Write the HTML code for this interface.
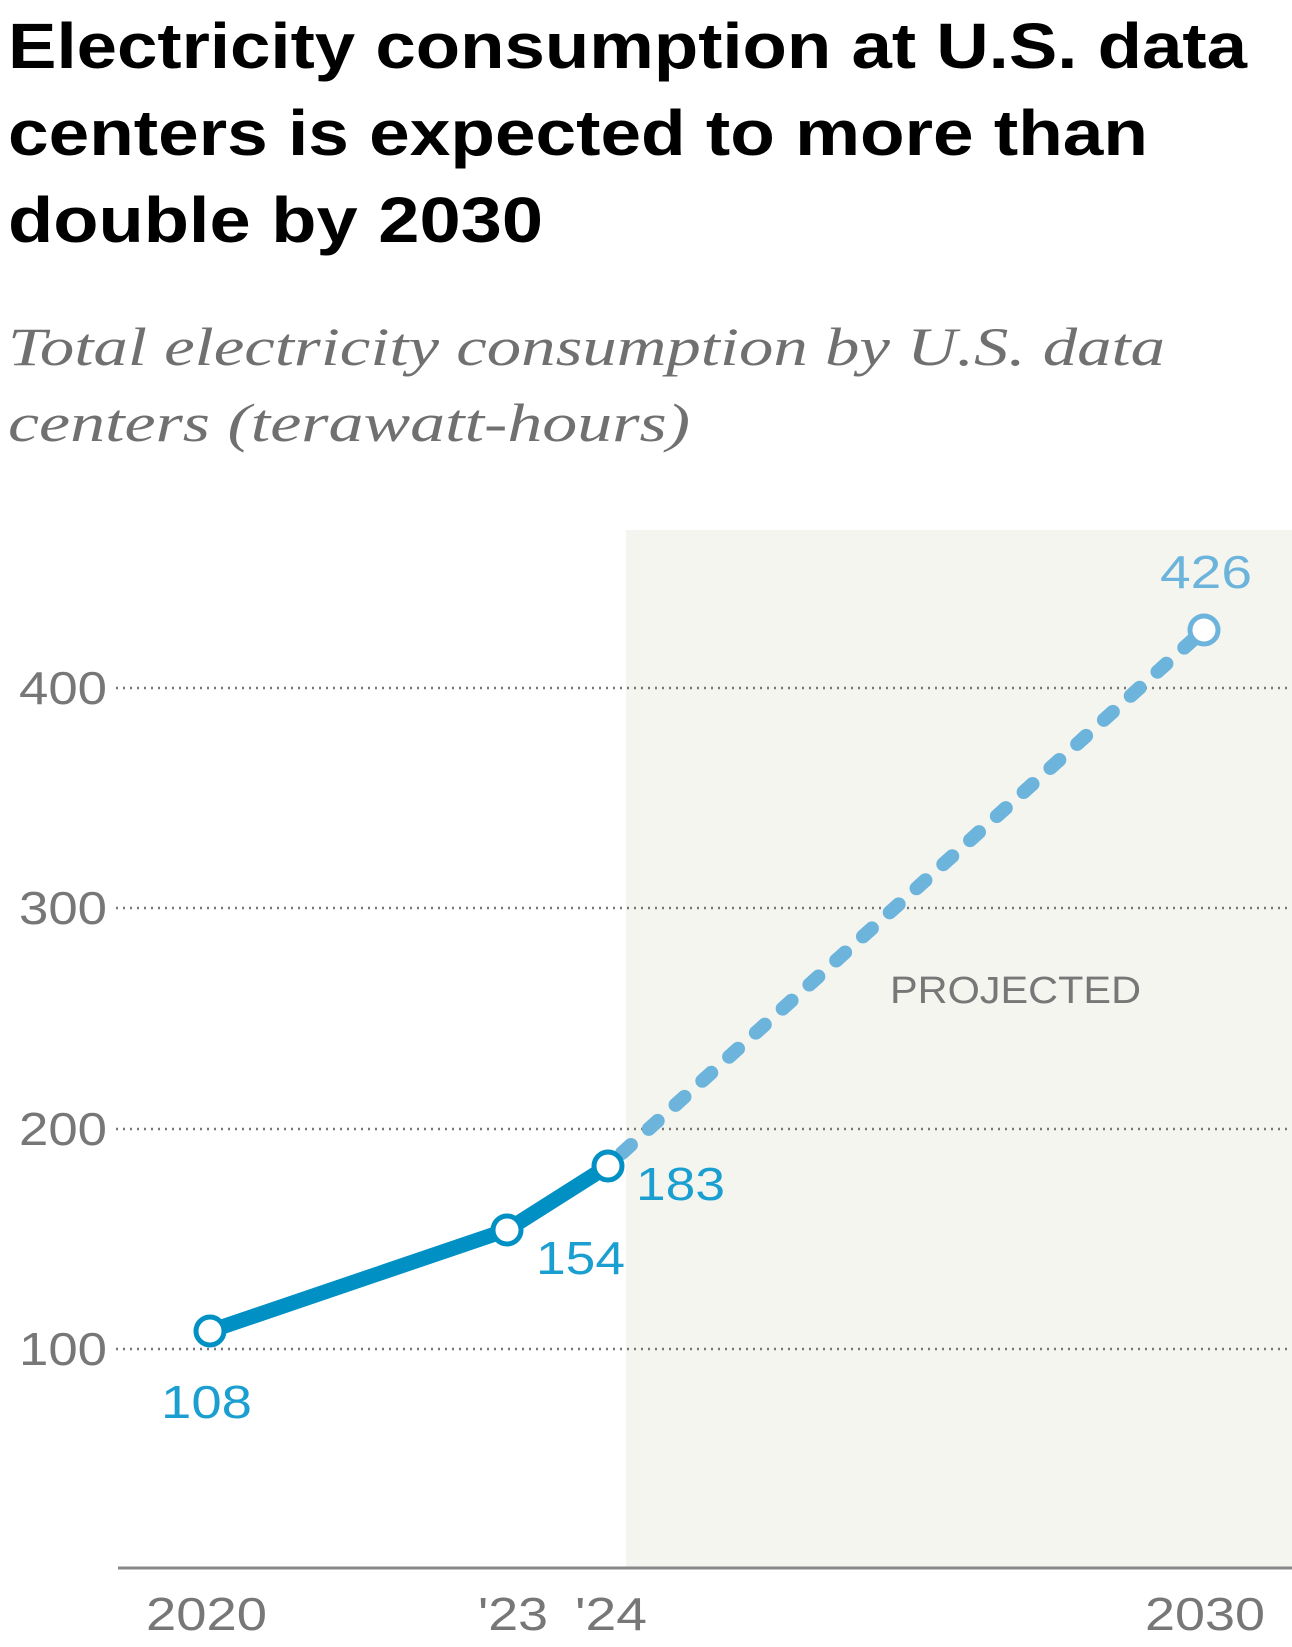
<!DOCTYPE html>
<html><head><meta charset="utf-8"><style>html,body{margin:0;padding:0;background:#fff}svg{display:block}</style></head>
<body>
<svg width="1292" height="1647" viewBox="0 0 1292 1647" xmlns="http://www.w3.org/2000/svg">
<g font-family="Liberation Sans, sans-serif" font-weight="bold" font-size="64" fill="#000">
<text x="8" y="68" textLength="1239" lengthAdjust="spacingAndGlyphs">Electricity consumption at U.S. data</text>
<text x="8" y="155" textLength="1140" lengthAdjust="spacingAndGlyphs">centers is expected to more than</text>
<text x="8" y="242" textLength="535" lengthAdjust="spacingAndGlyphs">double by 2030</text>
</g>
<g font-family="Liberation Serif, serif" font-style="italic" font-size="54" fill="#707070">
<text x="8" y="365" textLength="1157" lengthAdjust="spacingAndGlyphs">Total electricity consumption by U.S. data</text>
<text x="8" y="441" textLength="682" lengthAdjust="spacingAndGlyphs">centers (terawatt-hours)</text>
</g>
<rect x="626" y="530" width="666" height="1038" fill="#f5f5f0"/>
<g stroke="#777" stroke-width="2.5" stroke-dasharray="2 5">
<line x1="116" y1="688" x2="1292" y2="688"/>
<line x1="116" y1="908" x2="1292" y2="908"/>
<line x1="116" y1="1129" x2="1292" y2="1129"/>
<line x1="116" y1="1349" x2="1292" y2="1349"/>
</g>
<g font-family="Liberation Sans, sans-serif" font-size="46" fill="#777">
<text x="19" y="704" textLength="88" lengthAdjust="spacingAndGlyphs">400</text>
<text x="19" y="924" textLength="88" lengthAdjust="spacingAndGlyphs">300</text>
<text x="19" y="1145" textLength="88" lengthAdjust="spacingAndGlyphs">200</text>
<text x="19" y="1365" textLength="88" lengthAdjust="spacingAndGlyphs">100</text>
</g>
<line x1="118" y1="1568" x2="1292" y2="1568" stroke="#888" stroke-width="3"/>
<g font-family="Liberation Sans, sans-serif" font-size="46" fill="#777">
<text x="146" y="1630" textLength="121" lengthAdjust="spacingAndGlyphs">2020</text>
<text x="478" y="1630" textLength="70" lengthAdjust="spacingAndGlyphs">'23</text>
<text x="575" y="1630" textLength="72" lengthAdjust="spacingAndGlyphs">'24</text>
<text x="1145" y="1630" textLength="120" lengthAdjust="spacingAndGlyphs">2030</text>
</g>
<text x="890" y="1003" font-family="Liberation Sans, sans-serif" font-size="38" fill="#777" textLength="251" lengthAdjust="spacingAndGlyphs">PROJECTED</text>
<line x1="622" y1="1153" x2="1195" y2="638" stroke="#6cb4dc" stroke-width="14" stroke-linecap="round" stroke-dasharray="12 24"/>
<polyline points="210,1331 507,1230 608,1166" fill="none" stroke="#0090c4" stroke-width="15" stroke-linejoin="round"/>
<g fill="#fff" stroke-width="5">
<circle cx="210" cy="1331" r="14" stroke="#0090c4"/>
<circle cx="507" cy="1230" r="14" stroke="#0090c4"/>
<circle cx="608" cy="1166" r="14" stroke="#0090c4"/>
<circle cx="1204" cy="630" r="14" stroke="#6cb4dc"/>
</g>
<g font-family="Liberation Sans, sans-serif" font-size="46" fill="#1a9fd0">
<text x="161" y="1418" textLength="91" lengthAdjust="spacingAndGlyphs">108</text>
<text x="536" y="1274" textLength="89" lengthAdjust="spacingAndGlyphs">154</text>
<text x="636" y="1200" textLength="89" lengthAdjust="spacingAndGlyphs">183</text>
<text x="1160" y="588" fill="#6cb4dc" textLength="92" lengthAdjust="spacingAndGlyphs">426</text>
</g>
</svg>
</body></html>
